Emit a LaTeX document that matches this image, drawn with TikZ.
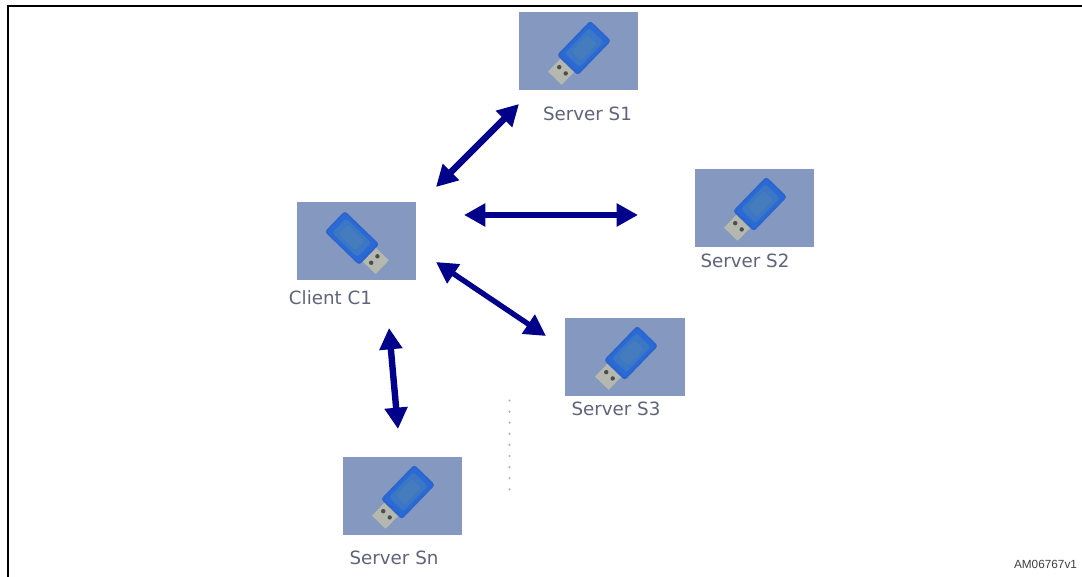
\documentclass[tikz,border=0pt]{standalone}
\usepackage{fontspec}
\setmainfont{DejaVu Sans}
\newfontfamily\idfont{Liberation Sans}
\usetikzlibrary{arrows.meta}
\definecolor{boxblue}{HTML}{8599C0}
\definecolor{arrowblue}{HTML}{00008B}
\definecolor{labelgrey}{HTML}{5F6479}
\definecolor{usbblue}{HTML}{2A6AD4}
\definecolor{usbedge}{HTML}{2C63CC}
\definecolor{usbcore}{HTML}{3C77C6}
\definecolor{usbmid}{HTML}{447CBE}
\definecolor{plugcol}{HTML}{B4B8AE}
\tikzset{
  x=0.75pt,y=-0.75pt,
  devbox/.style={fill=boxblue,draw=none,minimum width=89.5pt,minimum height=58.5pt,inner sep=0pt},
  devlabel/.style={text=labelgrey,font=\fontsize{13.7pt}{16pt}\selectfont,inner sep=0pt,anchor=base},
  link/.style={draw=arrowblue,line width=4.8pt,{Triangle[length=16pt,width=16.5pt]}-{Triangle[length=16pt,width=16.5pt]}},
  thinlink/.style={link,line width=4pt},
  usbstick/.pic={
    \fill[plugcol] (20,-9.5) -- (42,-9.5) -- (42,9.5) -- (20,9.5) -- cycle;
    \fill[black!70] (31,-4.5) circle (2.2) (31,4.5) circle (2.2);
    \fill[usbedge,rounded corners=2.2pt] (-24,-14.5) rectangle (24,14.5);
    \fill[usbblue,rounded corners=2pt] (-22.5,-13) rectangle (21.5,13);
    \fill[usbcore,rounded corners=2pt] (-18,-10) rectangle (17,10);
    \fill[usbmid,rounded corners=1.5pt] (-12,-6.5) rectangle (11,6.5);
  },
}
\begin{document}
\begin{tikzpicture}
\useasboundingbox (0,0) rectangle (1082,577);
\fill[white] (0,0) rectangle (1082,577);
\draw[line width=1.9pt,line join=miter] (1082,6) -- (8,6) -- (8,577);

\node[devbox] (c1) at (356.5,241) {};
\node[devbox] (s1) at (578.5,51.5) {};
\node[devbox] (s2) at (754.5,208) {};
\node[devbox] (s3) at (625,357) {};
\node[devbox] (sn) at (402.5,496) {};

\pic[rotate=-44] at (352,238) {usbstick};
\pic[rotate=226] at (584,48) {usbstick};
\pic[rotate=226] at (760,204) {usbstick};
\pic[rotate=226] at (631,353) {usbstick};
\pic[rotate=226] at (408,492) {usbstick};

\node[devlabel] (lc1) at (330.5,305) {Client C1};
\node[devlabel] (ls1) at (587.5,121) {Server S1};
\node[devlabel] (ls2) at (745,268) {Server S2};
\node[devlabel] (ls3) at (616,416) {Server S3};
\node[devlabel] (lsn) at (394,564) {Server Sn};

\node[font=\idfont\fontsize{8.85pt}{10pt}\selectfont,text=black!75,inner sep=0pt,anchor=base] (id) at (1045.5,568) {AM06767v1};

\coordinate (a1) at (436,187);
\coordinate (b1) at (519,104);
\coordinate (a2) at (464,215);
\coordinate (b2) at (638,215);
\coordinate (a3) at (436,262);
\coordinate (b3) at (546,336);
\coordinate (a4) at (389,328);
\coordinate (b4) at (398,429);
\draw[link] (a1) -- (b1);
\draw[link] (a2) -- (b2);
\draw[thinlink] (a3) -- (b3);
\draw[link] (a4) -- (b4);

\foreach \k in {0,...,8} \fill[black!30] (509.5,400.5+11.1*\k) circle (1.2);
\end{tikzpicture}
\end{document}
